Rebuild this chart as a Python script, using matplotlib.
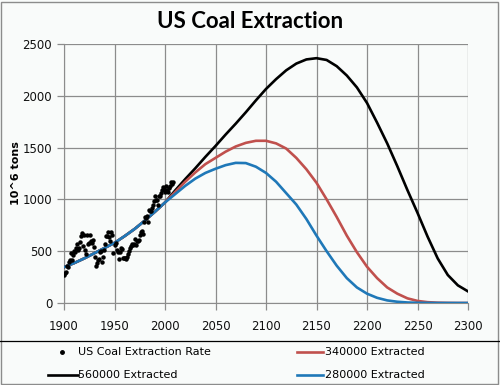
import numpy as np
import matplotlib
matplotlib.use('Agg')
import matplotlib.pyplot as plt
from matplotlib.lines import Line2D

# historical extraction, 10^6 tons per year
hist_years = list(range(1900, 2009))
hist_rate = [270, 293, 301, 357, 352, 393, 415, 481, 416, 461,
             502, 496, 535, 570, 514, 531, 591, 651, 679, 554,
             658, 507, 476, 658, 573, 582, 657, 597, 576, 609,
             536, 442, 359, 383, 416, 424, 493, 497, 395, 446,
             512, 571, 643, 651, 684, 632, 594, 688, 657, 480,
             560, 576, 508, 488, 420, 490, 529, 518, 431, 433,
             435, 420, 439, 477, 504, 527, 547, 565, 557, 571,
             613, 560, 602, 599, 610, 655, 685, 697, 670, 781,
             830, 824, 838, 782, 896, 884, 890, 919, 950, 981,
             1029, 996, 998, 945, 1034, 1033, 1064, 1090, 1118, 1100,
             1074, 1128, 1094, 1072, 1112, 1131, 1163, 1147, 1172]

# model curves, read every 10 years
model_years = list(range(1900, 2301, 10))
early = [345, 385, 430, 480, 530, 580, 645, 715, 795, 880, 970]
ext_560 = early + [1085, 1195, 1300, 1410, 1515, 1625, 1730, 1840, 1955, 2065,
                   2160, 2245, 2310, 2350, 2362, 2345, 2285, 2195, 2080, 1930,
                   1740, 1540, 1320, 1090, 870, 640, 430, 270, 170, 112]
ext_340 = early + [1070, 1170, 1260, 1340, 1400, 1460, 1510, 1545, 1565, 1565,
                   1540, 1490, 1400, 1290, 1160, 1000, 830, 650, 490, 350,
                   240, 150, 90, 45, 20, 8, 3, 1, 0, 0]
ext_280 = early + [1050, 1130, 1200, 1255, 1295, 1330, 1352, 1350, 1315, 1255,
                   1170, 1060, 950, 810, 650, 500, 360, 240, 150, 90,
                   50, 25, 12, 5, 2, 1, 0, 0, 0, 0]

labels = ['US Coal Extraction Rate', '560000 Extracted',
          '340000 Extracted', '280000 Extracted']
red = '#c0504d'
blue = '#1f78b8'
bg = '#f9fbfa'

fig = plt.figure(figsize=(5, 3.85), dpi=100, facecolor=bg)
ax = fig.add_axes([0.128, 0.213, 0.808, 0.673], facecolor=bg)

ax.plot(hist_years, hist_rate, 'o', color='black', ms=2.2, zorder=5)
ax.plot(model_years, ext_560, color='black', lw=1.9, zorder=3)
ax.plot(model_years, ext_340, color=red, lw=1.9, zorder=3)
ax.plot(model_years, ext_280, color=blue, lw=1.9, zorder=4)

ax.set_xlim(1900, 2300)
ax.set_ylim(0, 2500)
ax.set_xticks(range(1900, 2301, 50))
ax.set_yticks(range(0, 2501, 500))
ax.grid(True, color='#8c8c8c', lw=0.9)
ax.set_axisbelow(True)
for s in ['top', 'right']:
    ax.spines[s].set_visible(False)
for s in ['left', 'bottom']:
    ax.spines[s].set_color('#8c8c8c')
ax.tick_params(colors='#8c8c8c', labelcolor='#111111', labelsize=8.5, length=5, width=0.9)
ax.tick_params(axis='x', pad=7)
ax.set_ylabel('10^6 tons', fontsize=8, fontweight='bold', labelpad=1)

fig.text(0.5, 0.944, 'US Coal Extraction', ha='center', va='center',
         fontsize=16, fontweight='bold', family='Lato')

# legend area below the separator line
fig.add_artist(Line2D([0, 1], [0.114, 0.114], transform=fig.transFigure,
                      color='black', lw=0.9))

def px(x, y):
    return x / 500, 1 - y / 385

fig.add_artist(Line2D(*zip(px(62, 352)), marker='o', ls='none', color='black',
                      ms=2.5, transform=fig.transFigure))
fig.text(*px(78, 352), labels[0], fontsize=8, va='center')
fig.add_artist(Line2D(*zip(px(48, 375), px(78, 375)), color='black', lw=1.9,
                      transform=fig.transFigure))
fig.text(*px(78, 375), labels[1], fontsize=8, va='center')
fig.add_artist(Line2D(*zip(px(297, 352), px(323, 352)), color=red, lw=1.9,
                      transform=fig.transFigure))
fig.text(*px(325, 352), labels[2], fontsize=8, va='center')
fig.add_artist(Line2D(*zip(px(297, 375), px(323, 375)), color=blue, lw=1.9,
                      transform=fig.transFigure))
fig.text(*px(325, 375), labels[3], fontsize=8, va='center')

fig.add_artist(plt.Rectangle((0.002, 0.002), 0.994, 0.994, transform=fig.transFigure,
                             fill=False, edgecolor='#8c8c8c', lw=1))

fig.savefig('out.png', dpi=100, facecolor=bg)
